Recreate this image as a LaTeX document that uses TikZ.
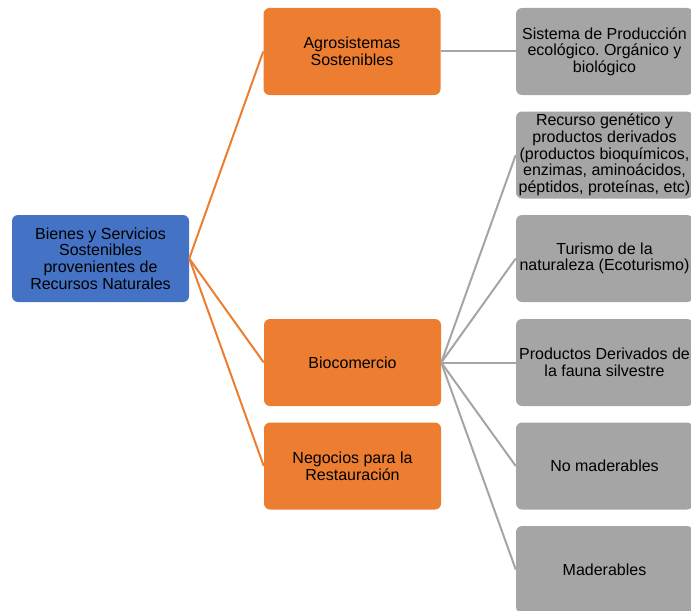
\documentclass[tikz,border=0pt]{standalone}
\usepackage{fontspec}
\setmainfont{Liberation Sans}
\frenchspacing
\definecolor{cblue}{HTML}{4472C4}
\definecolor{corange}{HTML}{ED7D31}
\definecolor{cgray}{HTML}{A5A5A5}
\begin{document}
\begin{tikzpicture}[x=0.75pt,y=-0.75pt,
  box/.style={rectangle,rounded corners=4.5pt,minimum width=132.75pt,minimum height=65.25pt,align=center,inner sep=0pt,text=black,font=\fontsize{12}{12.5}\selectfont},
  rootbox/.style={box,fill=cblue},
  midbox/.style={box,fill=corange},
  leafbox/.style={box,fill=cgray},
  oline/.style={draw=corange,line width=1.5pt},
  gline/.style={draw=cgray,line width=1.5pt}]
\useasboundingbox (0,0) rectangle (691,610);
\node[rootbox] (root) at (100.5,258.5) {Bienes y Servicios\\Sostenibles\\provenientes de\\Recursos Naturales};
\node[midbox] (agro) at (352,51.5) {Agrosistemas\\Sostenibles};
\node[midbox] (bio) at (352.5,362.5) {Biocomercio};
\node[midbox] (neg) at (352.5,466) {Negocios para la\\Restauración};
\node[leafbox] (l1) at (604.5,51.5) {Sistema de Producción\\ecológico.\ Orgánico y\\biológico};
\node[leafbox] (l2) at (604.5,155) {Recurso genético y\\productos derivados\\(productos bioquímicos,\\enzimas, aminoácidos,\\péptidos, proteínas, etc)};
\node[leafbox] (l3) at (604.5,258.5) {Turismo de la\\naturaleza (Ecoturismo)};
\node[leafbox] (l4) at (604.5,362.5) {Productos Derivados de\\la fauna silvestre};
\node[leafbox] (l5) at (604.5,466) {No maderables};
\node[leafbox] (l6) at (604.5,569.5) {Maderables};
\draw[oline] (root.east) -- (agro.west);
\draw[oline] (root.east) -- (bio.west);
\draw[oline] (root.east) -- (neg.west);
\draw[gline] (agro.east) -- (l1.west);
\foreach \n in {l2,l3,l4,l5,l6}{\draw[gline] (bio.east) -- (\n.west);}
\end{tikzpicture}
\end{document}
